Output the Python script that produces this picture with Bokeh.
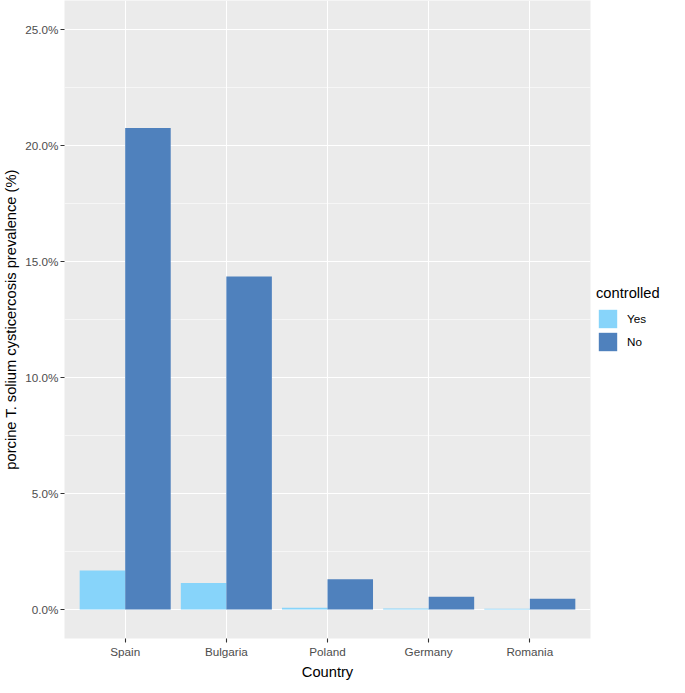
from bokeh.plotting import figure
from bokeh.models import (ColumnDataSource, FactorRange, Range1d, FixedTicker,
                          PrintfTickFormatter, Legend, LegendItem)
from bokeh.transform import dodge
from bokeh.embed import file_html
from bokeh.resources import INLINE

countries = ["Spain", "Bulgaria", "Poland", "Germany", "Romania"]
prev_yes = [1.68, 1.14, 0.08, 0.04, 0.03]
prev_no = [20.75, 14.35, 1.30, 0.55, 0.46]
y_ticks = [0, 5, 10, 15, 20, 25]
y_minor = [2.5, 7.5, 12.5, 17.5, 22.5]

COL_YES = "#87D4FA"
COL_NO = "#4F81BD"
FONT = "Liberation Sans"
FW, FH = 526, 638

src = ColumnDataSource(dict(country=countries, yes=prev_yes, no=prev_no))

xr = FactorRange(factors=countries, range_padding=0.1, range_padding_units="absolute")
p = figure(frame_width=FW, frame_height=FH, x_range=xr, y_range=Range1d(-1.25, 26.25),
           output_backend="svg", toolbar_location=None,
           min_border_left=54, min_border_right=0, min_border_top=0, min_border_bottom=0)

r_yes = p.vbar(x=dodge("country", -0.225, range=p.x_range), top="yes", bottom=0,
               width=0.45, source=src, fill_color=COL_YES, line_color=None)
r_no = p.vbar(x=dodge("country", 0.225, range=p.x_range), top="no", bottom=0,
              width=0.45, source=src, fill_color=COL_NO, line_color=None)

p.background_fill_color = "#EBEBEB"
p.border_fill_color = "white"
p.outline_line_color = None

p.yaxis.ticker = FixedTicker(ticks=y_ticks, minor_ticks=y_minor)
p.yaxis.formatter = PrintfTickFormatter(format="%.1f%%")

p.xgrid.grid_line_color = "white"
p.xgrid.grid_line_width = 1.1
p.ygrid.grid_line_color = "white"
p.ygrid.grid_line_width = 1.1
p.ygrid.minor_grid_line_color = "white"
p.ygrid.minor_grid_line_width = 0.55

for ax in (p.xaxis[0], p.yaxis[0]):
    ax.axis_line_color = None
    ax.major_tick_line_color = "#333333"
    ax.major_tick_line_width = 1.1
    ax.major_tick_out = 4
    ax.major_tick_in = 0
    ax.minor_tick_line_color = None
    ax.major_label_text_font = FONT
    ax.major_label_text_font_size = "11.7px"
    ax.major_label_text_color = "#4D4D4D"
    ax.major_label_standoff = 2
    ax.axis_label_text_font = FONT
    ax.axis_label_text_font_size = "14.7px"
    ax.axis_label_text_font_style = "normal"
    ax.axis_label_text_color = "black"
    ax.axis_label_standoff = 3

p.xaxis.axis_label = "Country"
p.yaxis.axis_label = "porcine T. solium cysticercosis prevalence (%)"

legend = Legend(items=[LegendItem(label="Yes", renderers=[r_yes]),
                       LegendItem(label="No", renderers=[r_no])],
                title="controlled", location="center_left")
legend.title_text_font = FONT
legend.title_text_font_size = "14.7px"
legend.title_text_font_style = "normal"
legend.title_text_color = "black"
legend.title_standoff = 6
legend.label_text_font = FONT
legend.label_text_font_size = "11.7px"
legend.label_text_color = "black"
legend.glyph_width = 23
legend.glyph_height = 23
legend.label_standoff = 8
legend.spacing = 0
legend.padding = 5
legend.margin = 6
legend.border_line_color = None
legend.background_fill_color = "white"
p.add_layout(legend, "right")

open("out.html", "w").write(file_html(p, INLINE))
